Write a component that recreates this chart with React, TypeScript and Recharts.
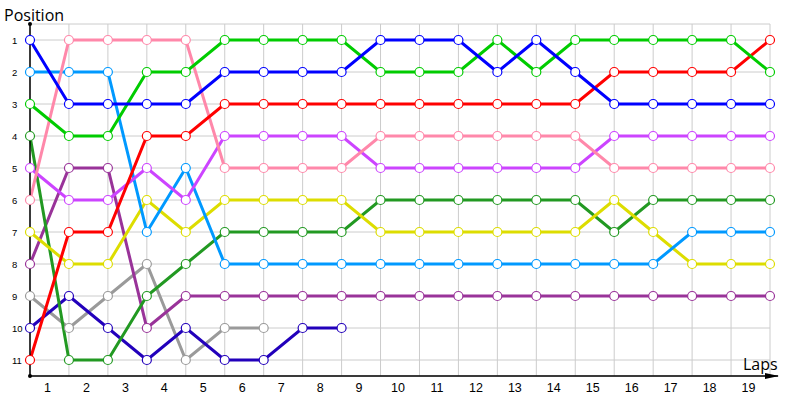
import React from "react";
import { LineChart, Line, XAxis, YAxis, CartesianGrid, ReferenceDot } from "recharts";

const laps = [0, 1, 2, 3, 4, 5, 6, 7, 8, 9, 10, 11, 12, 13, 14, 15, 16, 17, 18, 19];
const lapLabels = ["1", "2", "3", "4", "5", "6", "7", "8", "9", "10", "11", "12", "13", "14", "15", "16", "17", "18", "19"];
const positions = [1, 2, 3, 4, 5, 6, 7, 8, 9, 10, 11];

const blue = [1, 3, 3, 3, 3, 2, 2, 2, 2, 1, 1, 1, 2, 1, 2, 3, 3, 3, 3, 3];
const lightBlue = [2, 2, 2, 7, 5, 8, 8, 8, 8, 8, 8, 8, 8, 8, 8, 8, 8, 7, 7, 7];
const green = [3, 4, 4, 2, 2, 1, 1, 1, 1, 2, 2, 2, 1, 2, 1, 1, 1, 1, 1, 2];
const red = [11, 7, 7, 4, 4, 3, 3, 3, 3, 3, 3, 3, 3, 3, 3, 2, 2, 2, 2, 1];
const pink = [6, 1, 1, 1, 1, 5, 5, 5, 5, 4, 4, 4, 4, 4, 4, 5, 5, 5, 5, 5];
const purple = [5, 6, 6, 5, 6, 4, 4, 4, 4, 5, 5, 5, 5, 5, 5, 4, 4, 4, 4, 4];
const darkGreen = [4, 11, 11, 9, 8, 7, 7, 7, 7, 6, 6, 6, 6, 6, 6, 7, 6, 6, 6, 6];
const yellow = [7, 8, 8, 6, 7, 6, 6, 6, 6, 7, 7, 7, 7, 7, 7, 6, 7, 8, 8, 8];
const darkPurple = [8, 5, 5, 10, 9, 9, 9, 9, 9, 9, 9, 9, 9, 9, 9, 9, 9, 9, 9, 9];
const gray = [9, 10, 9, 8, 11, 10, 10];
const navy = [10, 9, 10, 11, 10, 11, 11, 10, 10];

const seriesList = [
  { key: "gray", values: gray, color: "#9a9a9a" },
  { key: "navy", values: navy, color: "#2200bb" },
  { key: "darkPurple", values: darkPurple, color: "#993399" },
  { key: "darkGreen", values: darkGreen, color: "#229922" },
  { key: "yellow", values: yellow, color: "#dddd00" },
  { key: "lightBlue", values: lightBlue, color: "#0099ff" },
  { key: "purple", values: purple, color: "#cc44ff" },
  { key: "pink", values: pink, color: "#ff88aa" },
  { key: "red", values: red, color: "#ff0000" },
  { key: "green", values: green, color: "#00cc00" },
  { key: "blue", values: blue, color: "#0000ff" },
];

const data = laps.map((lap, i) => {
  const row: Record<string, number | null> = { lap };
  seriesList.forEach((s) => {
    row[s.key] = i < s.values.length ? s.values[i] : null;
  });
  return row;
});

const makeDot = (color: string) => (props: any) => {
  const { cx, cy, index, value } = props;
  if (cx == null || cy == null || value == null || Number.isNaN(cy)) return <g key={`e-${index}`} />;
  return <circle key={`d-${index}`} cx={cx} cy={cy} r={4.5} fill="#ffffff" stroke={color} strokeWidth={1.2} />;
};

const XTick = (props: any) => {
  const { x, index } = props;
  if (index >= lapLabels.length) return <g />;
  const step = 740 / 19;
  return (
    <text x={x + step / 2 - 2} y={392} textAnchor="middle" fontSize={12.5} fontFamily="Liberation Sans, sans-serif" fill="#000">
      {lapLabels[index]}
    </text>
  );
};

const LeftTick = (props: any) => {
  const { y, payload } = props;
  return (
    <text x={12} y={y + 3.5} textAnchor="start" fontSize={9.5} fontFamily="Liberation Sans, sans-serif" fill="#000">
      {payload.value}
    </text>
  );
};

const RightTick = (props: any) => {
  const { y, payload } = props;
  return (
    <text x={778} y={y + 3.5} textAnchor="start" fontSize={9.5} fontFamily="Liberation Sans, sans-serif" fill="#000">
      {payload.value}
    </text>
  );
};

const ArrowShape = (props: any) => {
  const { cx, cy } = props;
  if (cx == null || cy == null) return <g />;
  return (
    <g>
      <line x1={cx} y1={cy} x2={cx + 8} y2={cy} stroke="#000" strokeWidth={1.5} />
      <polygon points={`${cx - 5},${cy - 3} ${cx + 9},${cy} ${cx - 5},${cy + 3}`} fill="#000" />
    </g>
  );
};

const SmallDot = (props: any) => {
  const { cx, cy } = props;
  if (cx == null || cy == null) return <g />;
  return <circle cx={cx} cy={cy} r={2} fill="#000" />;
};

export default function App() {
  return (
    <div style={{ position: "absolute", left: 0, top: 0, width: 800, height: 400, background: "#fff" }}>
      <LineChart width={800} height={400} data={data} margin={{ top: 24, right: 0, bottom: 0, left: 0 }}>
        <CartesianGrid stroke="#cccccc" strokeWidth={1} yAxisId="left" />
        <XAxis
          dataKey="lap"
          type="number"
          domain={[0, 19]}
          ticks={laps}
          interval={0}
          tickLine={false}
          axisLine={{ stroke: "#000", strokeWidth: 1.5 }}
          tick={<XTick />}
          height={24}
        />
        <YAxis
          yAxisId="left"
          type="number"
          domain={[0.5, 11.5]}
          reversed
          ticks={positions}
          interval={0}
          tickLine={false}
          axisLine={{ stroke: "#000", strokeWidth: 1.5 }}
          tick={<LeftTick />}
          width={30}
        />
        <YAxis
          yAxisId="right"
          orientation="right"
          type="number"
          domain={[0.5, 11.5]}
          reversed
          ticks={positions}
          interval={0}
          tickLine={false}
          axisLine={false}
          tick={<RightTick />}
          width={30}
        />
        {seriesList.map((s) => (
          <Line
            key={s.key}
            yAxisId="left"
            dataKey={s.key}
            type="linear"
            stroke={s.color}
            strokeWidth={3}
            dot={makeDot(s.color)}
            activeDot={false}
            connectNulls={false}
            isAnimationActive={false}
          />
        ))}
        <ReferenceDot yAxisId="left" x={0} y={0.5} ifOverflow="visible" shape={<SmallDot />} />
        <ReferenceDot yAxisId="left" x={0} y={11.5} ifOverflow="visible" shape={<SmallDot />} />
        <ReferenceDot yAxisId="left" x={19} y={11.5} ifOverflow="visible" shape={<ArrowShape />} />
      </LineChart>
      <div style={{ position: "absolute", left: 4, top: 4, fontFamily: "Open Sans, sans-serif", fontSize: 16, color: "#000", lineHeight: "22px" }}>
        Position
      </div>
      <div style={{ position: "absolute", left: 743, top: 353, fontFamily: "Open Sans, sans-serif", fontSize: 16, color: "#000", lineHeight: "22px" }}>
        Laps
      </div>
    </div>
  );
}
